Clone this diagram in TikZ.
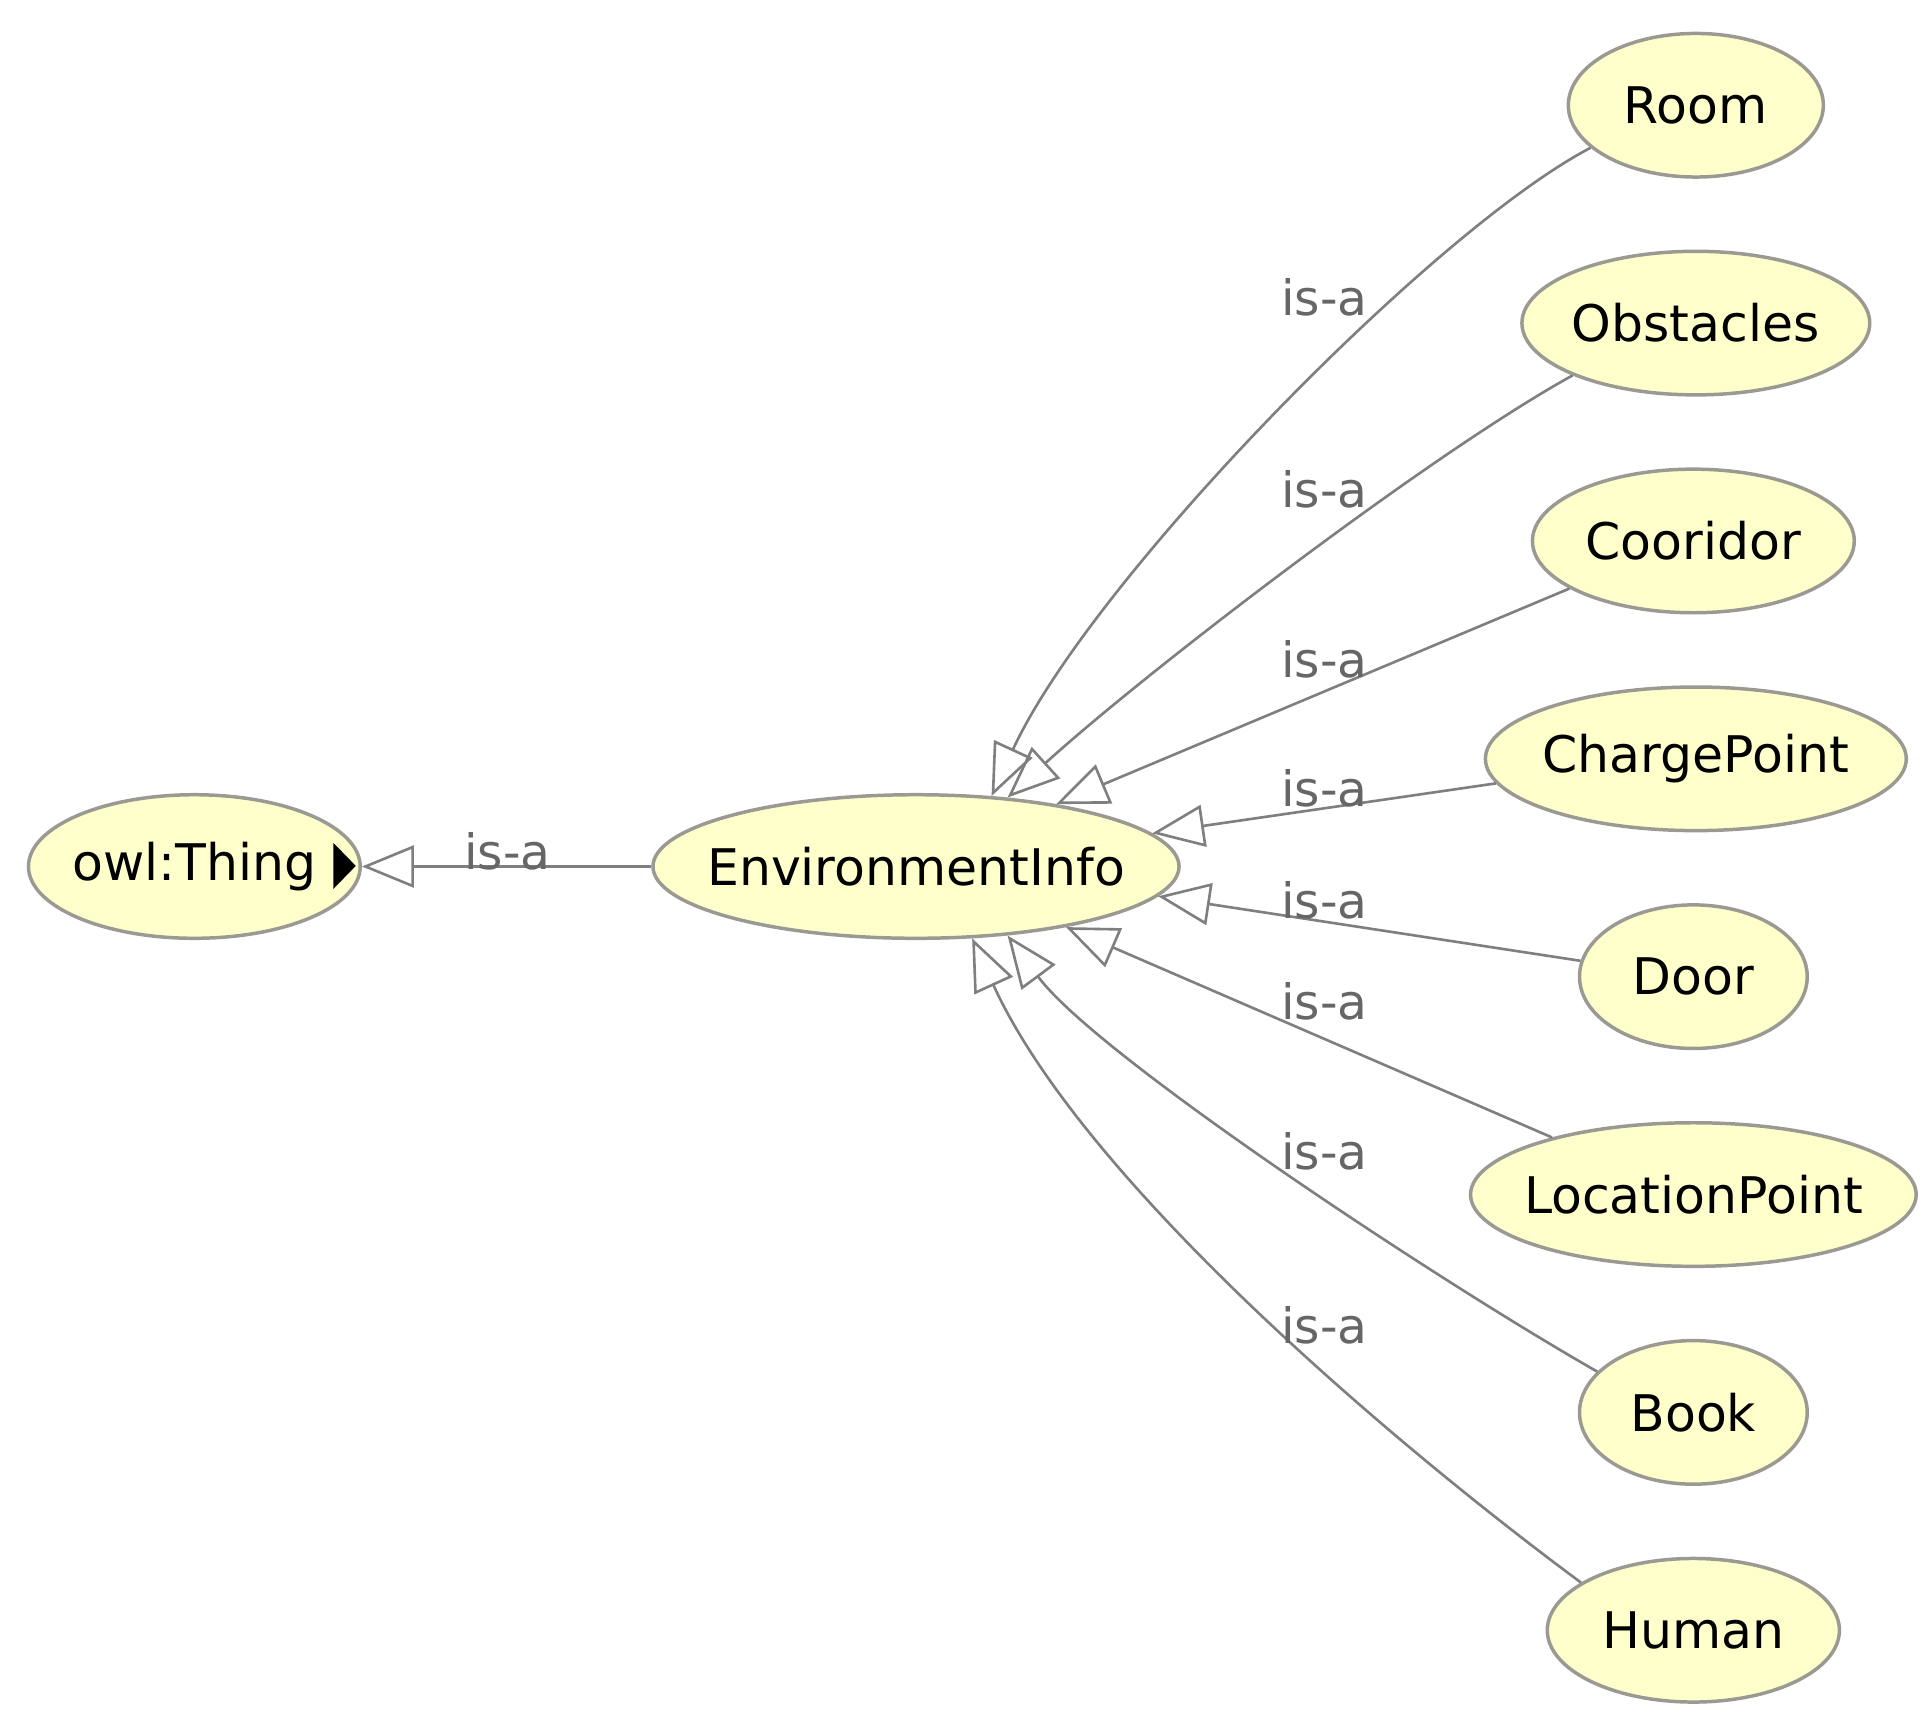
\documentclass[tikz,border=0pt]{standalone}
\usepackage{fontspec}
\setmainfont{DejaVu Sans}
\usetikzlibrary{arrows.meta,shapes.geometric}
\definecolor{clsfill}{HTML}{FFFFCC}
\definecolor{clsline}{HTML}{9A9A92}
\definecolor{edgegray}{HTML}{7F7F7F}
\definecolor{lblgray}{HTML}{666666}
\tikzset{
	cls/.style={ellipse, draw=clsline, fill=clsfill, line width=0.8pt, minimum height=1.16cm, inner xsep=-0.25cm, inner ysep=0pt, font=\fontsize{11.6}{14}\selectfont},
	isa/.style={draw=edgegray, line width=0.6pt, -{Triangle[open,length=0.42cm,width=0.34cm]}},
	lbl/.style={text=lblgray, inner sep=0pt, font=\fontsize{11.2}{13}\selectfont}
}

\begin{document}
\begin{tikzpicture}
			%%%%% START %%%%%
			
			\useasboundingbox[fill=white] (0, 0) rectangle (15.60, -13.87);
			
			\node[cls, minimum width=2.68cm] (thing) at (1.57, -7.00) {owl:Thing};
			\fill ([xshift=-0.23cm, yshift=0.19cm]thing.east) -- ++(0, -0.37) -- ++(0.18, 0.185) -- cycle;
			
			\node[cls, minimum width=4.25cm] (env) at (7.40, -7.00) {EnvironmentInfo};
			
			\node[cls, minimum width=2.06cm] (room) at (13.70, -0.85) {Room};
			\node[cls, minimum width=2.81cm] (obst) at (13.70, -2.61) {Obstacles};
			\node[cls, minimum width=2.60cm] (coor) at (13.68, -4.37) {Cooridor};
			\node[cls, minimum width=3.40cm] (charge) at (13.70, -6.13) {ChargePoint};
			\node[cls, minimum width=1.84cm] (door) at (13.68, -7.89) {Door};
			\node[cls, minimum width=3.60cm] (loc) at (13.68, -9.65) {LocationPoint};
			\node[cls, minimum width=1.84cm] (book) at (13.68, -11.41) {Book};
			\node[cls, minimum width=2.36cm] (human) at (13.68, -13.17) {Human};
			
			\draw[isa] (env.180) -- (thing.0);
			
			\draw[isa] (room.202) .. controls +(-1.28, -0.67) and +(0.80, 1.74) .. (env.43.5);
			\draw[isa] (obst.203) .. controls +(-1.16, -0.64) and +(1.10, 1.00) .. (env.37);
			\draw[isa] (coor.201.6) -- (env.24.7);
			\draw[isa] (charge.187.8) -- (env.8.4);
			\draw[isa] (door.172) -- (env.-7.1);
			\draw[isa] (loc.158.7) -- (env.-22.7);
			\draw[isa] (book.157) .. controls +(-1.28, 0.73) and +(0.72, -0.97) .. (env.-37.4);
			\draw[isa] (human.157.5) .. controls +(-1.54, 1.14) and +(0.89, -1.95) .. (env.-52.8);
			
			\node[lbl] (l0) at (4.10, -6.88) {is-a};
			\node[lbl] (l1) at (10.70, -2.40) {is-a};
			\node[lbl] (l2) at (10.70, -3.95) {is-a};
			\node[lbl] (l3) at (10.70, -5.33) {is-a};
			\node[lbl] (l4) at (10.70, -6.37) {is-a};
			\node[lbl] (l5) at (10.70, -7.27) {is-a};
			\node[lbl] (l6) at (10.70, -8.09) {is-a};
			\node[lbl] (l7) at (10.70, -9.30) {is-a};
			\node[lbl] (l8) at (10.70, -10.71) {is-a};
			
			%%%%% END %%%%%
\end{tikzpicture}
\end{document}
